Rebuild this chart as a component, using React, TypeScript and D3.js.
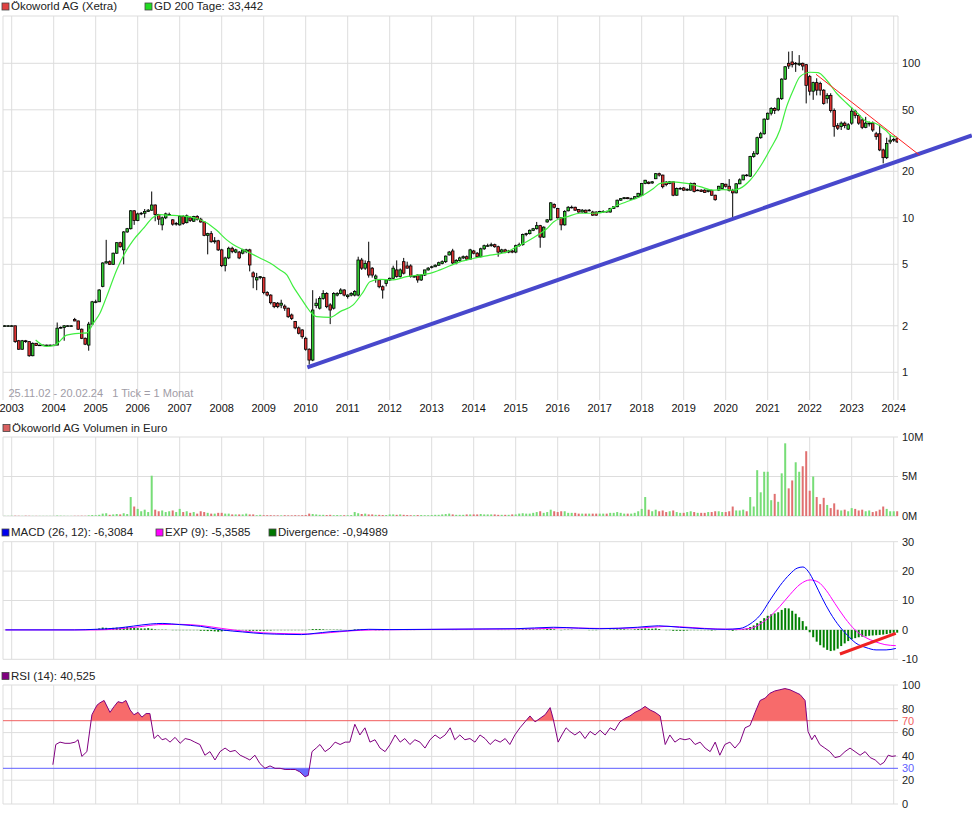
import React from "react";
import * as d3 from "d3";

// monthly candles [open, high, low, close] in EUR, first slot = Nov 2002
const ohlc2002 = [[2.0, 2.02, 1.98, 2.0], [2.0, 2.02, 1.98, 2.0]];
const ohlc2003 = [
  [2.0, 2.02, 1.98, 2.0], [2.0, 2.0, 1.55, 1.58], [1.6, 1.62, 1.4, 1.41], [1.41, 1.62, 1.4, 1.6],
  [1.6, 1.62, 1.55, 1.58], [1.58, 1.58, 1.26, 1.28], [1.28, 1.56, 1.27, 1.54], [1.54, 1.55, 1.48, 1.49],
  [1.5, 1.51, 1.49, 1.5], [1.5, 1.51, 1.49, 1.5], [1.5, 1.51, 1.49, 1.5], [1.5, 1.51, 1.49, 1.5],
];
const ohlc2004 = [
  [1.5, 1.51, 1.49, 1.5], [1.5, 2.1, 1.5, 1.93], [1.93, 1.98, 1.92, 1.95], [1.95, 2.02, 1.6, 2.0],
  [2.0, 2.02, 1.98, 2.0], [2.0, 2.02, 1.98, 2.0], [2.2, 2.25, 2.14, 2.15], [2.15, 2.16, 1.88, 1.9],
  [1.9, 1.92, 1.64, 1.66], [1.66, 1.68, 1.5, 1.52], [1.5, 2.12, 1.38, 2.05], [2.05, 2.9, 2.04, 2.86],
];
const ohlc2005 = [
  [2.84, 2.95, 2.8, 2.86], [2.86, 3.45, 2.85, 3.41], [3.6, 5.15, 3.55, 5.1], [5.1, 7.2, 5.05, 5.2],
  [5.2, 5.3, 4.95, 5.0], [5.0, 5.95, 4.95, 5.9], [5.9, 6.95, 5.85, 6.9], [6.9, 7.0, 6.4, 6.5],
  [6.2, 8.2, 5.0, 8.1], [8.1, 8.6, 8.0, 8.5], [8.5, 11.2, 8.4, 11.1], [11.1, 11.2, 9.0, 9.6],
];
const ohlc2006 = [
  [9.6, 10.8, 9.5, 10.6], [10.6, 10.9, 10.4, 10.7], [10.7, 11.4, 10.0, 11.0], [11.0, 11.4, 10.9, 11.2],
  [11.2, 14.8, 11.1, 12.1], [12.1, 12.2, 9.5, 10.5], [10.5, 10.6, 9.0, 9.8], [9.0, 10.2, 8.3, 10.0],
  [10.0, 10.8, 9.8, 10.6], [10.4, 10.8, 10.3, 10.5], [9.7, 9.8, 8.9, 9.1], [9.1, 9.4, 8.9, 9.2],
];
const ohlc2007 = [
  [9.0, 10.4, 8.9, 10.2], [10.2, 10.4, 9.0, 9.2], [9.3, 10.5, 9.2, 10.3], [10.0, 10.2, 9.4, 9.6],
  [9.5, 10.3, 9.4, 10.2], [10.2, 10.4, 9.6, 9.8], [9.8, 10.0, 9.3, 9.4], [9.4, 9.5, 7.6, 7.7],
  [7.7, 8.0, 5.8, 7.9], [7.9, 8.2, 6.9, 7.0], [7.0, 7.5, 6.8, 7.1], [7.1, 7.2, 6.1, 6.2],
];
const ohlc2008 = [
  [6.2, 6.3, 4.8, 4.9], [4.9, 5.6, 4.5, 5.5], [5.5, 6.5, 5.4, 6.35], [6.35, 6.5, 5.9, 6.05],
  [6.0, 6.3, 5.9, 6.2], [6.0, 6.1, 5.4, 5.5], [5.9, 6.3, 5.8, 6.2], [6.05, 6.3, 5.9, 6.2],
  [6.2, 6.3, 4.5, 4.95], [4.4, 4.5, 3.5, 4.15], [3.96, 4.4, 3.4, 4.1], [4.1, 4.2, 4.0, 4.16],
];
const ohlc2009 = [
  [4.1, 4.15, 3.2, 3.28], [3.28, 3.35, 3.1, 3.16], [3.16, 3.2, 2.75, 2.82], [2.82, 2.85, 2.6, 2.66],
  [2.8, 2.85, 2.6, 2.66], [2.72, 2.95, 2.6, 2.8], [2.68, 2.75, 2.5, 2.6], [2.6, 2.62, 2.25, 2.29],
  [2.35, 2.4, 2.18, 2.23], [2.13, 2.15, 1.9, 1.94], [1.94, 1.98, 1.76, 1.79], [1.88, 1.9, 1.65, 1.7],
];
const ohlc2010 = [
  [1.66, 1.7, 1.38, 1.41], [1.41, 1.43, 1.12, 1.2], [1.2, 3.4, 1.18, 2.53], [2.7, 3.0, 2.6, 2.8],
  [2.6, 3.1, 2.55, 3.0], [3.0, 3.4, 2.95, 3.24], [3.24, 3.3, 2.6, 2.66], [2.73, 2.8, 2.05, 2.53],
  [2.6, 3.3, 2.55, 3.24], [3.16, 3.3, 3.1, 3.24], [3.24, 3.5, 3.2, 3.41], [3.41, 3.45, 3.1, 3.16],
];
const ohlc2011 = [
  [3.09, 3.2, 3.0, 3.16], [3.16, 3.3, 3.1, 3.24], [3.16, 3.4, 3.1, 3.33], [3.16, 5.6, 3.1, 5.33],
  [5.33, 5.5, 4.6, 4.72], [4.72, 5.3, 4.6, 5.07], [5.2, 7.0, 4.1, 4.26], [4.72, 4.8, 4.1, 4.26],
  [4.06, 4.3, 3.8, 4.2], [3.96, 4.0, 3.5, 3.58], [3.58, 3.65, 3.0, 3.41], [3.76, 4.0, 3.6, 3.96],
];
const ohlc2012 = [
  [3.96, 4.1, 3.9, 4.06], [4.06, 4.9, 4.0, 4.72], [4.6, 5.3, 4.1, 4.17], [4.17, 4.7, 4.1, 4.6],
  [5.2, 5.5, 4.3, 4.38], [4.88, 5.2, 4.7, 4.72], [4.88, 5.0, 4.1, 4.17], [4.17, 4.2, 4.1, 4.17],
  [4.26, 4.3, 3.8, 3.96], [3.96, 4.3, 3.9, 4.26], [4.26, 4.6, 4.2, 4.6], [4.6, 4.8, 4.55, 4.72],
];
const ohlc2013 = [
  [4.8, 4.9, 4.7, 4.82], [4.82, 5.0, 4.8, 4.93], [4.93, 5.2, 4.9, 5.12], [5.07, 5.3, 5.0, 5.2],
  [5.2, 5.7, 5.1, 5.65], [5.75, 6.1, 5.7, 6.0], [6.1, 6.3, 5.0, 5.1], [5.1, 5.4, 5.0, 5.3],
  [5.3, 5.6, 5.2, 5.5], [5.5, 5.7, 5.4, 5.6], [5.6, 5.7, 5.3, 5.4], [5.4, 6.3, 5.35, 6.2],
];
const ohlc2014 = [
  [6.1, 6.2, 5.8, 5.9], [5.9, 6.0, 5.5, 5.6], [5.6, 6.4, 5.55, 6.3], [6.3, 6.7, 6.2, 6.6],
  [6.6, 6.8, 6.5, 6.6], [6.6, 6.9, 6.5, 6.7], [6.7, 6.8, 6.4, 6.5], [6.5, 6.6, 5.6, 6.0],
  [6.0, 6.3, 5.9, 6.2], [6.2, 6.3, 5.9, 6.0], [6.0, 6.2, 5.9, 6.1], [6.1, 6.2, 5.9, 6.0],
];
const ohlc2015 = [
  [6.0, 6.7, 5.9, 6.6], [6.6, 6.9, 6.5, 6.7], [6.7, 7.9, 6.6, 7.8], [7.8, 8.0, 7.6, 7.9],
  [7.9, 8.4, 7.8, 8.3], [8.3, 8.6, 8.2, 8.5], [8.5, 9.4, 8.4, 8.9], [8.9, 9.0, 6.4, 7.5],
  [7.5, 8.8, 7.4, 8.7], [9.4, 9.8, 9.3, 9.7], [9.7, 12.6, 9.6, 12.5], [12.2, 12.4, 11.5, 11.7],
];
const ohlc2016 = [
  [11.5, 11.6, 9.9, 10.0], [10.0, 10.1, 8.3, 9.0], [9.0, 11.2, 8.9, 11.0], [11.1, 11.9, 11.0, 11.7],
  [11.7, 12.0, 11.5, 11.7], [11.7, 11.8, 11.1, 11.2], [11.3, 11.4, 10.8, 10.9], [10.9, 11.4, 10.8, 11.2],
  [11.2, 11.3, 10.7, 10.8], [11.1, 11.4, 11.0, 11.2], [10.9, 11.1, 10.3, 10.4], [10.9, 11.0, 10.3, 10.4],
];
const ohlc2017 = [
  [10.9, 11.1, 10.8, 11.0], [10.9, 11.2, 10.8, 11.0], [11.0, 11.1, 10.8, 10.9], [10.9, 11.6, 10.8, 11.5],
  [11.5, 11.9, 11.4, 11.8], [11.8, 13.1, 11.7, 13.0], [13.0, 13.4, 12.9, 13.3], [13.3, 13.6, 13.2, 13.5],
  [13.5, 13.6, 13.2, 13.3], [13.3, 13.5, 13.2, 13.3], [13.3, 13.8, 13.2, 13.7], [13.7, 14.5, 13.6, 14.4],
];
const ohlc2018 = [
  [14.0, 16.8, 13.9, 16.7], [16.7, 17.6, 16.5, 17.5], [17.0, 17.2, 16.5, 16.7], [16.8, 17.3, 16.6, 17.1],
  [17.9, 19.5, 17.8, 19.3], [19.3, 19.6, 18.5, 18.9], [18.9, 19.0, 15.5, 15.9], [17.0, 17.3, 16.0, 16.4],
  [16.7, 17.3, 16.5, 17.1], [17.1, 17.2, 13.8, 14.0], [14.0, 15.7, 13.9, 15.5], [15.4, 15.8, 15.2, 15.5],
];
const ohlc2019 = [
  [15.6, 15.8, 14.9, 15.1], [15.1, 15.5, 14.9, 15.3], [15.1, 16.9, 15.0, 16.7], [16.7, 16.9, 14.6, 14.8],
  [15.1, 15.3, 14.9, 15.1], [15.1, 15.3, 14.7, 14.8], [15.1, 15.3, 14.5, 14.6], [14.8, 15.3, 14.6, 15.1],
  [15.0, 15.2, 13.9, 14.0], [14.0, 14.1, 12.9, 13.1], [15.1, 16.1, 14.9, 16.0], [15.5, 16.8, 15.4, 16.7],
];
const ohlc2020 = [
  [16.5, 16.6, 15.7, 16.0], [16.0, 17.8, 14.8, 15.0], [15.0, 15.4, 9.9, 14.5], [14.5, 16.8, 14.4, 16.6],
  [16.6, 18.0, 16.5, 17.6], [17.6, 19.0, 17.5, 18.9], [18.9, 19.2, 18.5, 18.8], [18.6, 25.2, 18.4, 24.9],
  [24.9, 27.0, 24.5, 26.0], [26.0, 33.5, 25.5, 33.0], [33.0, 36.0, 32.5, 35.0], [35.0, 44.0, 34.5, 43.5],
];
const ohlc2021 = [
  [43.5, 48, 43, 47.5], [47.5, 52, 46, 51], [51, 52, 47, 49.5], [50, 60, 49, 59],
  [59, 80, 58, 79], [79, 96, 78, 95], [100, 119, 92, 96], [102, 120, 94, 98],
  [99, 102, 88, 100], [98, 113, 96, 100], [100, 101, 90, 96], [98, 99, 55, 72],
];
const ohlc2022 = [
  [82, 84, 62, 66], [66, 76, 58, 75], [75, 80, 62, 67], [74, 76, 62, 67],
  [67, 68, 54, 55], [59, 64, 55, 62], [62, 64, 48, 49.5], [49.5, 51, 33.5, 39],
  [39.5, 41, 37, 38], [39, 42, 37, 41], [41, 42, 38, 39.5], [37.5, 41, 37, 40],
];
const ohlc2023 = [
  [41, 52, 40, 49], [49, 50, 44, 46], [46, 47, 40, 41], [43, 44, 37.5, 38.5],
  [38.5, 45, 38, 41], [40.5, 42, 39, 41], [41, 42, 36, 37], [35, 36, 32, 33.5],
  [35, 40, 27, 27.5], [27.5, 28, 22.5, 24.5], [24.5, 33, 24, 30.3], [31, 34.5, 30, 31.8],
];
const ohlc2024 = [[31.8, 33, 31, 32.2], [32.5, 33, 30.5, 31]];

// monthly turnover in million EUR, same slots as the candles
const volumeMio = [
  0.02, 0.02,
  0.03, 0.04, 0.03, 0.02, 0.04, 0.03, 0.02, 0.02, 0.02, 0.02, 0.02, 0.02,
  0.02, 0.06, 0.04, 0.03, 0.02, 0.02, 0.03, 0.03, 0.04, 0.03, 0.08, 0.12,
  0.1, 0.15, 0.3, 0.35, 0.15, 0.2, 0.25, 0.2, 0.35, 0.25, 2.4, 1.2,
  0.9, 0.6, 0.8, 0.5, 5.1, 0.8, 0.6, 0.7, 0.5, 0.6, 0.7, 0.5,
  0.9, 0.5, 0.6, 0.4, 0.5, 0.3, 0.6, 0.5, 0.4, 0.3, 0.3, 0.4,
  0.4, 0.3, 0.3, 0.2, 0.2, 0.2, 0.2, 0.3, 0.2, 0.2, 0.1, 0.15,
  0.1, 0.1, 0.1, 0.08, 0.08, 0.08, 0.1, 0.08, 0.08, 0.1, 0.08, 0.1,
  0.12, 0.3, 0.25, 0.2, 0.15, 0.15, 0.12, 0.15, 0.1, 0.12, 0.1, 0.1,
  0.1, 0.12, 0.5, 0.35, 0.25, 0.3, 0.2, 0.2, 0.15, 0.15, 0.12, 0.12,
  0.2, 0.2, 0.15, 0.2, 0.15, 0.12, 0.1, 0.1, 0.12, 0.12, 0.1, 0.1,
  0.12, 0.15, 0.15, 0.2, 0.25, 0.3, 0.2, 0.15, 0.15, 0.15, 0.2, 0.2,
  0.2, 0.2, 0.25, 0.2, 0.2, 0.2, 0.2, 0.15, 0.15, 0.15, 0.15, 0.2,
  0.2, 0.3, 0.35, 0.3, 0.3, 0.4, 0.5, 0.6, 0.4, 0.5, 0.8, 0.6,
  0.5, 0.6, 0.6, 0.4, 0.4, 0.4, 0.3, 0.3, 0.3, 0.3, 0.3, 0.3,
  0.3, 0.3, 0.3, 0.4, 0.4, 0.5, 0.4, 0.3, 0.3, 0.3, 0.4, 0.6,
  0.9, 2.4, 0.8, 0.6, 0.8, 0.6, 0.7, 0.5, 0.6, 0.7, 0.5, 0.4,
  0.4, 0.5, 0.6, 0.5, 0.4, 0.4, 0.4, 0.5, 0.5, 0.6, 0.6, 0.5,
  0.5, 0.6, 1.2, 0.7, 0.7, 0.8, 0.6, 2.4, 1.2, 5.8, 3.0, 5.6,
  5.6, 2.0, 2.8, 1.8, 5.4, 9.2, 3.5, 4.5, 6.8, 5.6, 6.3, 8.2,
  3.2, 5.0, 2.4, 1.5, 2.3, 1.4, 1.0, 1.6, 0.8, 0.7, 0.8, 0.6,
  1.0, 0.9, 0.7, 0.8, 0.6, 0.7, 0.5, 0.6, 0.8, 1.2, 0.9, 0.6,
  0.6, 0.6,
];

// 200-day average, [year, EUR]
const gd200 = [
  [2003.57, 1.62], [2003.83, 1.47], [2004.03, 1.5], [2004.31, 1.74], [2004.63, 1.79], [2004.79, 1.8],
  [2004.94, 2.07], [2005.1, 2.41], [2005.26, 3.09], [2005.5, 4.6], [2005.74, 6.2], [2005.9, 7.2],
  [2006.13, 8.5], [2006.37, 10.1], [2006.53, 10.5], [2006.69, 10.4], [2007.01, 10.3], [2007.4, 9.9],
  [2007.64, 9.3], [2007.88, 8.3], [2008.12, 7.2], [2008.28, 6.7], [2008.6, 6.05], [2008.91, 5.5],
  [2009.15, 5.1], [2009.39, 4.6], [2009.55, 4.27], [2009.7, 3.6], [2009.86, 3.09], [2010.02, 2.66],
  [2010.14, 2.41], [2010.26, 2.29], [2010.58, 2.27], [2010.82, 2.47], [2011.13, 2.73], [2011.37, 3.32],
  [2011.53, 3.86], [2011.77, 4.0], [2012.09, 3.96], [2012.4, 4.16], [2012.72, 4.27], [2012.96, 4.37],
  [2013.2, 4.6], [2013.67, 5.19], [2013.99, 5.45], [2014.39, 5.73], [2014.79, 6.02], [2015.02, 6.49],
  [2015.26, 7.0], [2015.58, 7.9], [2015.74, 8.5], [2015.9, 9.4], [2016.05, 9.9], [2016.21, 10.15],
  [2016.53, 10.7], [2016.85, 10.7], [2017.17, 11.0], [2017.32, 11.7], [2017.64, 12.7], [2017.96, 13.7],
  [2018.28, 15.5], [2018.44, 16.7], [2018.75, 17.1], [2019.07, 16.7], [2019.39, 15.9], [2019.7, 15.1],
  [2019.94, 15.2], [2020.18, 15.1], [2020.34, 15.5], [2020.58, 17.5], [2020.82, 21.4], [2021.05, 27.5],
  [2021.29, 37], [2021.45, 52.4], [2021.61, 67.2], [2021.77, 82], [2022.01, 87.5], [2022.2, 87],
  [2022.4, 78], [2022.64, 64], [2022.88, 55.1], [2023.12, 48], [2023.36, 41.9], [2023.56, 40.9],
  [2023.8, 37], [2023.99, 33.5], [2024.07, 33.4],
];

// drawn trend lines, [year, value]
const supportLine = [[2010.04, 1.077], [2025.86, 34.1]];
const resistanceLine = [[2022.15, 84.9], [2024.61, 25.5]];
const macdTrend = [[2022.72, -8.2], [2024.05, -1.2]];

// MACD (26,12) and its 9-period EXP, [year, value]
const macdLine = [
  [2002.85, 0], [2004.5, 0], [2005.0, 0.2], [2005.5, 0.6], [2005.9, 1.3], [2006.3, 2.0], [2006.6, 2.2],
  [2007.0, 1.8], [2007.5, 1.2], [2008.0, 0.0], [2008.5, -0.7], [2009.0, -1.3], [2009.5, -1.5],
  [2009.9, -1.6], [2010.2, -1.2], [2010.6, -0.6], [2011.0, -0.3], [2011.5, 0.2], [2012.0, 0.1],
  [2013.0, 0.2], [2014.0, 0.3], [2015.0, 0.4], [2015.9, 0.9], [2016.5, 0.6], [2017.0, 0.4],
  [2017.9, 0.9], [2018.4, 1.4], [2018.9, 0.9], [2019.5, 0.4], [2020.0, 0.2], [2020.34, 0.5],
  [2020.58, 2.0], [2020.82, 5], [2021.05, 10], [2021.29, 15], [2021.53, 19], [2021.7, 21],
  [2021.84, 21.4], [2021.96, 20], [2022.12, 16], [2022.29, 11], [2022.48, 6], [2022.72, 1],
  [2022.91, -2], [2023.1, -4.5], [2023.34, -6], [2023.58, -6.8], [2023.82, -6.8], [2024.05, -6.31],
];
const expLine = [
  [2002.85, 0], [2005.0, 0], [2005.5, 0.3], [2006.0, 1.0], [2006.5, 1.8], [2007.0, 1.9], [2007.5, 1.5],
  [2008.0, 0.5], [2008.5, -0.4], [2009.0, -1.0], [2009.6, -1.3], [2010.1, -1.4], [2010.6, -0.9],
  [2011.0, -0.4], [2011.6, 0], [2012.5, 0.1], [2014.0, 0.25], [2015.5, 0.4], [2016.2, 0.7],
  [2017.0, 0.5], [2018.0, 0.7], [2018.6, 1.2], [2019.2, 0.8], [2019.8, 0.3], [2020.3, 0.2],
  [2020.58, 0.5], [2020.82, 2], [2021.05, 4.5], [2021.29, 8], [2021.53, 12], [2021.77, 15.5],
  [2022.01, 17], [2022.2, 16.3], [2022.39, 13.5], [2022.6, 9], [2022.84, 4], [2023.08, 0],
  [2023.32, -2.5], [2023.56, -4], [2023.79, -5], [2024.05, -5.36],
];
// MACD minus EXP, monthly
const divergence = [
  0, 0,
  0, 0, 0, 0, 0, 0, 0, 0, 0, 0, 0, 0,
  0, 0, 0, 0, 0, 0, 0, 0, 0, 0.1, 0.2, 0.2,
  0.3, 0.5, 0.8, 0.7, 0.6, 0.7, 0.8, 0.7, 0.9, 1.0, 0.8, 0.7,
  0.6, 0.5, 0.5, 0.6, 0.4, 0.2, 0.1, 0.1, 0.1, 0, -0.1, -0.1,
  -0.1, -0.1, -0.1, -0.1, -0.1, -0.1, -0.3, -0.3, -0.4, -0.4, -0.5, -0.6,
  -0.5, -0.3, -0.2, -0.1, -0.1, -0.1, -0.1, -0.2, -0.3, -0.3, -0.3, -0.3,
  -0.3, -0.2, -0.2, -0.1, -0.1, -0.1, -0.1, -0.1, -0.1, -0.1, -0.1, -0.1,
  -0.1, 0.1, 0.3, 0.3, 0.3, 0.2, 0.1, 0.1, 0.1, 0.1, 0.1, 0,
  0, 0, 0.2, 0.2, 0.2, 0.1, 0, 0, -0.1, -0.1, -0.1, 0,
  0.05, 0.05, 0, 0.05, 0, -0.05, -0.05, -0.05, 0, 0.05, 0.05, 0.05,
  0.05, 0.05, 0.05, 0.1, 0.1, 0.05, -0.05, -0.05, 0, 0, 0.05, 0.05,
  0, 0, 0.05, 0.05, 0.05, 0, 0, -0.05, -0.05, -0.05, -0.05, 0,
  0.1, 0.1, 0.2, 0.2, 0.2, 0.2, 0.1, 0.1, 0.1, 0.3, 0.4, 0.2,
  0, -0.1, 0.1, 0.1, 0.1, 0, 0, 0, 0, -0.1, -0.1, -0.1,
  0, 0, 0, 0.1, 0.1, 0.2, 0.2, 0.2, 0.1, 0.1, 0.2, 0.3,
  0.4, 0.5, 0.4, 0.4, 0.5, 0.3, 0, -0.1, -0.1, -0.3, -0.3, -0.3,
  -0.3, -0.2, -0.1, -0.1, -0.1, -0.1, -0.1, -0.1, -0.2, -0.1, 0, 0,
  0, -0.1, -0.3, -0.1, 0.1, 0.3, 0.5, 1.0, 1.5, 2.3, 3.0, 4.0,
  4.8, 5.3, 5.6, 6.0, 6.8, 7.4, 7.3, 6.5, 5.5, 4.3, 3.0, 1.2,
  -0.8, -2.5, -4.0, -5.2, -6.0, -6.8, -7.2, -7.0, -6.4, -5.5, -4.6, -3.8,
  -3.2, -2.8, -2.5, -2.3, -2.2, -2.0, -1.9, -1.8, -1.7, -1.6, -1.4, -1.2,
  -1.0, -0.95,
];

// RSI (14), [year, value]
const rsi = [
  [2003.98, 33], [2004.05, 50], [2004.15, 52], [2004.27, 51], [2004.39, 51], [2004.51, 52], [2004.58, 54],
  [2004.67, 40], [2004.79, 44], [2004.91, 75], [2005.03, 83], [2005.1, 85], [2005.2, 87], [2005.34, 77],
  [2005.44, 82], [2005.53, 86], [2005.63, 85], [2005.72, 87], [2005.82, 79], [2005.91, 75], [2006.01, 77],
  [2006.1, 73], [2006.2, 76], [2006.29, 76], [2006.39, 55], [2006.48, 58], [2006.58, 54], [2006.67, 55],
  [2006.77, 52], [2006.89, 56], [2007.01, 51], [2007.13, 55], [2007.25, 54], [2007.36, 52], [2007.48, 50],
  [2007.6, 41], [2007.72, 44], [2007.84, 37], [2007.96, 44], [2008.08, 47], [2008.2, 44], [2008.32, 45],
  [2008.44, 41], [2008.56, 39], [2008.67, 37], [2008.79, 41], [2008.91, 34], [2009.03, 30], [2009.15, 32],
  [2009.27, 30], [2009.39, 30], [2009.51, 29], [2009.63, 29], [2009.75, 29], [2009.86, 27], [2009.98, 23],
  [2010.06, 24], [2010.15, 44], [2010.25, 47], [2010.34, 50], [2010.46, 44], [2010.58, 47], [2010.7, 52],
  [2010.82, 50], [2010.94, 52], [2011.05, 52], [2011.17, 67], [2011.29, 58], [2011.41, 64], [2011.53, 52],
  [2011.65, 54], [2011.77, 47], [2011.89, 44], [2012.01, 50], [2012.13, 58], [2012.25, 52], [2012.36, 55],
  [2012.48, 50], [2012.6, 54], [2012.72, 52], [2012.84, 47], [2012.96, 54], [2013.08, 58], [2013.2, 55],
  [2013.32, 58], [2013.44, 64], [2013.55, 54], [2013.67, 58], [2013.79, 54], [2013.91, 55], [2014.03, 52],
  [2014.15, 58], [2014.27, 55], [2014.39, 50], [2014.51, 54], [2014.63, 52], [2014.75, 55], [2014.86, 50],
  [2014.98, 58], [2015.1, 64], [2015.22, 69], [2015.34, 74], [2015.46, 69], [2015.58, 72], [2015.7, 75],
  [2015.82, 81], [2015.89, 72], [2016.01, 52], [2016.1, 58], [2016.2, 64], [2016.29, 61], [2016.41, 58],
  [2016.53, 61], [2016.65, 55], [2016.77, 61], [2016.89, 58], [2017.01, 62], [2017.13, 58], [2017.25, 64],
  [2017.36, 62], [2017.48, 69], [2017.6, 72], [2017.72, 74], [2017.84, 77], [2017.96, 79], [2018.08, 82],
  [2018.2, 79], [2018.32, 77], [2018.44, 74], [2018.56, 50], [2018.67, 58], [2018.79, 52], [2018.91, 55],
  [2019.03, 54], [2019.15, 55], [2019.27, 50], [2019.39, 52], [2019.51, 47], [2019.63, 44], [2019.75, 52],
  [2019.86, 41], [2019.98, 50], [2020.1, 52], [2020.22, 47], [2020.34, 52], [2020.46, 64], [2020.58, 66],
  [2020.7, 77], [2020.82, 87], [2020.94, 89], [2021.05, 93], [2021.17, 95], [2021.29, 96], [2021.41, 97],
  [2021.53, 96], [2021.65, 94], [2021.77, 92], [2021.89, 87], [2021.96, 61], [2022.05, 54], [2022.12, 58],
  [2022.24, 50], [2022.36, 47], [2022.48, 44], [2022.6, 39], [2022.72, 40], [2022.84, 44], [2022.96, 47],
  [2023.08, 44], [2023.2, 41], [2023.32, 44], [2023.44, 39], [2023.56, 37], [2023.68, 33], [2023.77, 35],
  [2023.87, 41], [2023.96, 40], [2024.05, 40.5],
];

const yearTicks = d3.range(2003, 2025);
const priceTicks = [1, 2, 5, 10, 20, 50, 100];
const volumeTicks = [0, 5, 10];
const macdTicks = [-10, 0, 10, 20, 30];
const rsiTicks = [0, 20, 40, 60, 80, 100];

const FONT = "Liberation Sans, Arial, sans-serif";
const GRID = "#dddddd";
const LEFT = 3;
const RIGHT = 898;
const LABEL_X = 902;

const x = d3.scaleLinear().domain([2003, 2024]).range([11.7, 893.7]);
const yPrice = d3.scaleLog().domain([1, 100]).range([372.3, 63.3]);
const yVol = d3.scaleLinear().domain([0, 10]).range([516, 437]);
const yMacd = d3.scaleLinear().domain([-10, 30]).range([659.3, 541.7]);
const yRsi = d3.scaleLinear().domain([0, 100]).range([804, 685]);

const candles = [
  ohlc2002, ohlc2003, ohlc2004, ohlc2005, ohlc2006, ohlc2007, ohlc2008, ohlc2009, ohlc2010, ohlc2011,
  ohlc2012, ohlc2013, ohlc2014, ohlc2015, ohlc2016, ohlc2017, ohlc2018, ohlc2019, ohlc2020, ohlc2021,
  ohlc2022, ohlc2023, ohlc2024,
].flat().map((d, i) => ({ t: 2002 + (10 + i) / 12, o: d[0], h: d[1], l: d[2], c: d[3] }));

function Legend({ items, y }: { items: { x: number; color: string; label: string }[]; y: number }) {
  return (
    <g>
      {items.map((it) => (
        <g key={it.label}>
          <rect x={it.x} y={y - 7} width={7} height={7} fill={it.color} stroke="#444" strokeWidth={0.8} />
          <text x={it.x + 9} y={y} fontSize={11.5} fontFamily={FONT} fill="#222">{it.label}</text>
        </g>
      ))}
    </g>
  );
}

function YearGrid({ top, bottom }: { top: number; bottom: number }) {
  return (
    <g>
      {yearTicks.map((yr) => (
        <line key={yr} x1={x(yr)} x2={x(yr)} y1={top} y2={bottom} stroke={GRID} />
      ))}
      <line x1={LEFT} x2={LEFT} y1={top} y2={bottom} stroke={GRID} />
    </g>
  );
}

function HGrid({ ticks, scale, fmt, colors = {} }: any) {
  return (
    <g>
      {ticks.map((t: number) => (
        <g key={t}>
          <line x1={LEFT} x2={RIGHT} y1={scale(t)} y2={scale(t)} stroke={colors[t] || GRID} />
          <text x={LABEL_X} y={scale(t)} dy="0.35em" fontSize={11} fontFamily={FONT} fill={colors[t] ? colors[t] : "#222"}>
            {fmt ? fmt(t) : t}
          </text>
        </g>
      ))}
    </g>
  );
}

export default function App() {
  const gdPath = d3.line<number[]>().x((d) => x(d[0])).y((d) => yPrice(d[1])).curve(d3.curveMonotoneX)(gd200);
  const macdPath = d3.line<number[]>().x((d) => x(d[0])).y((d) => yMacd(d[1])).curve(d3.curveMonotoneX)(macdLine);
  const expPath = d3.line<number[]>().x((d) => x(d[0])).y((d) => yMacd(d[1])).curve(d3.curveMonotoneX)(expLine);
  const rsiLine = d3.line<number[]>().x((d) => x(d[0])).y((d) => yRsi(d[1]));
  const rsiHigh = d3.area<number[]>().x((d) => x(d[0])).y0(yRsi(70)).y1((d) => yRsi(d[1]));
  const rsiLow = d3.area<number[]>().x((d) => x(d[0])).y0(yRsi(30)).y1((d) => yRsi(d[1]));

  const up = (c: any) => c.c >= c.o;

  return (
    <div style={{ position: "absolute", left: 0, top: 0 }}>
      <svg width={972} height={814} style={{ display: "block", background: "#fff" }}>
        <defs>
          <clipPath id="priceClip"><rect x={LEFT} y={16} width={RIGHT - LEFT} height={384} /></clipPath>
          <clipPath id="rsiAbove"><rect x={LEFT} y={685} width={RIGHT - LEFT} height={yRsi(70) - 685} /></clipPath>
          <clipPath id="rsiBelow"><rect x={LEFT} y={yRsi(30)} width={RIGHT - LEFT} height={804 - yRsi(30)} /></clipPath>
        </defs>

        {/* price panel */}
        <Legend y={10} items={[
          { x: 2, color: "#e04040", label: "Ökoworld AG (Xetra)" },
          { x: 145, color: "#22dd22", label: "GD 200 Tage: 33,442" },
        ]} />
        <YearGrid top={16} bottom={400} />
        <line x1={LEFT} x2={RIGHT} y1={16} y2={16} stroke={GRID} />
        <line x1={RIGHT} x2={RIGHT} y1={16} y2={400} stroke={GRID} />
        <HGrid ticks={priceTicks} scale={yPrice} />
        <text x={8.5} y={397} fontSize={11} fontFamily={FONT} fill="#a09ca6">
          25.11.02 - 20.02.24{"\u00a0\u00a0\u00a0"}1 Tick = 1 Monat
        </text>
        <g clipPath="url(#priceClip)">
          {candles.map((c, i) => {
            const cx = x(c.t);
            const top = yPrice(Math.max(c.o, c.c));
            const bot = yPrice(Math.min(c.o, c.c));
            return (
              <g key={i}>
                <line x1={cx} x2={cx} y1={yPrice(c.h)} y2={yPrice(c.l)} stroke="#000" strokeWidth={1} />
                <rect x={cx - 1.3} y={top} width={2.6} height={Math.max(bot - top, 0.6)}
                  fill={up(c) ? "#33cc33" : "#dd3333"} stroke="#000" strokeWidth={0.8} />
              </g>
            );
          })}
          <path d={gdPath || ""} fill="none" stroke="#40ee40" strokeWidth={1.2} />
        </g>
        <line x1={x(supportLine[0][0])} y1={yPrice(supportLine[0][1])} x2={x(supportLine[1][0])} y2={yPrice(supportLine[1][1])}
          stroke="#4848cc" strokeWidth={4} />
        <line x1={x(resistanceLine[0][0])} y1={yPrice(resistanceLine[0][1])} x2={x(resistanceLine[1][0])} y2={yPrice(resistanceLine[1][1])}
          stroke="#ff2020" strokeWidth={1} />
        {yearTicks.map((yr) => (
          <text key={yr} x={x(yr)} y={412} textAnchor="middle" fontSize={11} fontFamily={FONT} fill="#111">{yr}</text>
        ))}

        {/* volume panel */}
        <Legend y={431.5} items={[{ x: 3, color: "#d96060", label: "Ökoworld AG Volumen in Euro" }]} />
        <YearGrid top={437} bottom={516} />
        <HGrid ticks={volumeTicks} scale={yVol} fmt={(t: number) => `${t}M`} />
        {volumeMio.map((v, i) => {
          const c = candles[i];
          const cx = x(c.t);
          return <rect key={i} x={cx - 1} y={yVol(v)} width={2} height={yVol(0) - yVol(v)}
            fill={up(c) ? "#77dd77" : "#e07070"} />;
        })}

        {/* MACD panel */}
        <Legend y={536} items={[
          { x: 2, color: "#0000ee", label: "MACD (26, 12): -6,3084" },
          { x: 156, color: "#ff00ff", label: "EXP (9): -5,3585" },
          { x: 269, color: "#007700", label: "Divergence: -0,94989" },
        ]} />
        <YearGrid top={541.7} bottom={659.3} />
        <HGrid ticks={macdTicks} scale={yMacd} />
        {divergence.map((v, i) => {
          const cx = x(candles[i].t);
          return <rect key={i} x={cx - 1} y={Math.min(yMacd(v), yMacd(0))} width={2}
            height={Math.abs(yMacd(v) - yMacd(0))} fill="#008000" />;
        })}
        <path d={expPath || ""} fill="none" stroke="#ff00ff" strokeWidth={1} />
        <path d={macdPath || ""} fill="none" stroke="#0000ff" strokeWidth={1} />
        <line x1={x(macdTrend[0][0])} y1={yMacd(macdTrend[0][1])} x2={x(macdTrend[1][0])} y2={yMacd(macdTrend[1][1])}
          stroke="#ee2222" strokeWidth={3} />

        {/* RSI panel */}
        <Legend y={679.5} items={[{ x: 2, color: "#800080", label: "RSI (14): 40,525" }]} />
        <YearGrid top={685} bottom={804} />
        <HGrid ticks={rsiTicks} scale={yRsi} />
        <HGrid ticks={[70, 30]} scale={yRsi} colors={{ 70: "#f06060", 30: "#6060ff" }} />
        <path d={rsiHigh(rsi) || ""} fill="#f76b6b" clipPath="url(#rsiAbove)" />
        <path d={rsiLow(rsi) || ""} fill="#6a6aff" clipPath="url(#rsiBelow)" />
        <path d={rsiLine(rsi) || ""} fill="none" stroke="#800080" strokeWidth={1} />
      </svg>
    </div>
  );
}
